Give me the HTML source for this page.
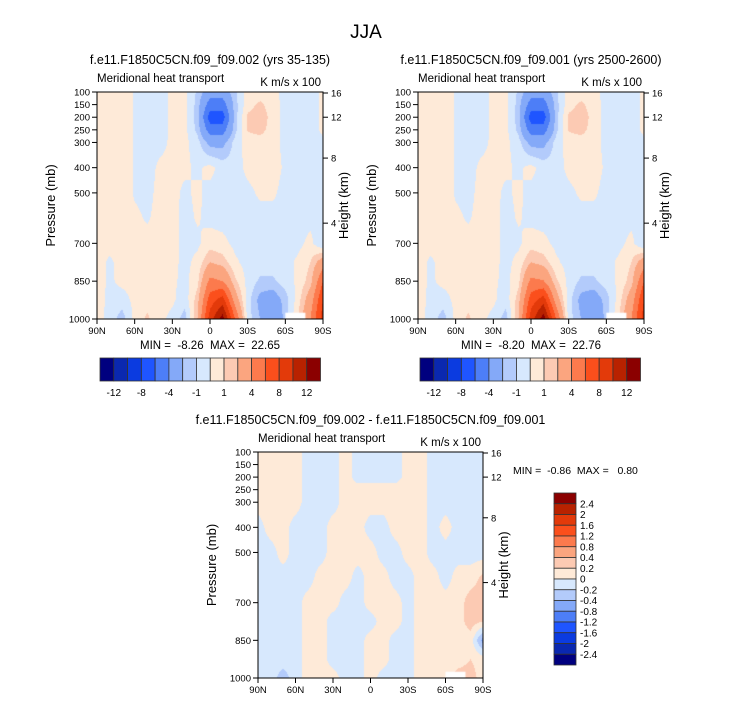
<!DOCTYPE html>
<html><head><meta charset="utf-8"><style>
html,body{margin:0;padding:0;background:#fff;}
#wrap{position:relative;width:733px;height:703px;overflow:hidden;font-family:"Liberation Sans",sans-serif;}
canvas{position:absolute;}
svg{position:absolute;left:0;top:0;}
</style></head><body>
<div id="wrap">
<canvas id="c1"></canvas>
<canvas id="c2"></canvas>
<canvas id="c3"></canvas>
<svg id="ov" width="733" height="703"></svg>
</div>
<script>
const pressures=[100,150,200,250,300,400,500,600,700,775,850,925,1000];
const lats=[90,80,70,60,50,40,30,20,10,0,-10,-20,-30,-40,-50,-60,-70,-80,-90];
const field1=[
[0.5,0.5,0.5,-0.1,-0.4,-0.4,0.2,0.3,-1.2,-3,-3,-1.2,0.4,0.5,0.4,-0.4,-0.4,-0.4,0.2],
[0.5,0.5,0.5,-0.1,-0.4,-0.4,0.2,0.3,-1.4,-5,-5,-1.4,0.6,1.2,0.5,-0.4,-0.4,-0.4,0.2],
[0.5,0.4,0.5,-0.1,-0.4,-0.4,0.2,0.3,-1.5,-7,-7,-1.5,1.2,1.6,0.6,-0.4,-0.4,-0.4,0.2],
[0.5,0.4,0.5,-0.1,-0.4,-0.4,0.2,0.3,-1.3,-5,-5,-1.3,1.1,1.3,0.6,-0.4,-0.4,-0.4,0.2],
[0.5,0.4,0.5,-0.1,-0.4,-0.3,0.2,0.3,-0.6,-2.5,-2.5,-0.6,0.5,0.6,0.5,-0.4,-0.4,-0.4,-0.2],
[0.5,0.4,0.5,-0.1,-0.4,0.2,0.2,0.2,-0.2,0.3,-0.4,-0.5,0.3,0.5,0.5,-0.2,-0.4,-0.4,-0.3],
[0.5,0.4,0.5,-0.1,-0.3,0.3,0.3,-0.2,0.2,-0.3,-0.4,-0.5,-0.3,0.2,0.2,-0.4,-0.4,-0.4,-0.3],
[0.5,0.4,0.5,0.2,-0.1,0.3,0.3,-0.3,0.1,-0.3,-0.4,-0.5,-0.5,-0.4,-0.4,-0.4,-0.4,-0.3,-0.5],
[0.5,0.4,0.4,0.4,0.3,0.3,0.3,-0.3,-0.2,0.5,0.3,-0.3,-0.5,-0.5,-0.4,-0.4,-0.3,0.3,-1],
[0.5,-0.2,0.4,0.4,0.3,0.3,0.3,-0.3,0.3,2,1.5,0.2,-0.4,-0.5,-0.5,-0.4,0.2,1,3],
[0.5,-0.2,0.3,0.4,0.3,0.3,0.2,-0.3,0.7,4.5,4,1.2,-0.3,-1.2,-1.2,-0.5,0.2,1.5,6],
[0.5,-0.3,-0.5,0.3,0.6,0.3,0.2,-0.6,1.5,7,9,3,-0.5,-2.5,-3,-1.5,0.5,3,8],
[0.5,-0.4,-1.5,0.3,1.2,0.3,-0.3,-1.5,2,9,13,6,-0.5,-2,-4,-1.5,1,4,9]];
const field2=[
[0.5,0.5,0.5,-0.1,-0.4,-0.4,0.2,0.3,-1.2,-3,-3,-1.2,0.4,0.5,0.4,-0.4,-0.4,-0.4,0.2],
[0.5,0.5,0.5,-0.1,-0.4,-0.4,0.2,0.3,-1.4,-5,-5,-1.4,0.6,1.2,0.5,-0.4,-0.4,-0.4,0.2],
[0.5,0.4,0.5,-0.1,-0.4,-0.4,0.2,0.3,-1.5,-7,-7,-1.5,1.2,1.6,0.6,-0.4,-0.4,-0.4,0.2],
[0.5,0.4,0.5,-0.1,-0.4,-0.4,0.2,0.3,-1.3,-5,-5,-1.3,1.1,1.3,0.6,-0.4,-0.4,-0.4,0.2],
[0.5,0.4,0.5,-0.1,-0.4,-0.3,0.2,0.3,-0.6,-2.5,-2.5,-0.6,0.5,0.6,0.5,-0.4,-0.4,-0.4,-0.2],
[0.5,0.4,0.5,-0.1,-0.4,0.2,0.2,0.2,-0.2,0.3,-0.4,-0.5,0.3,0.5,0.5,-0.2,-0.4,-0.4,-0.3],
[0.5,0.4,0.5,-0.1,-0.3,0.3,0.3,-0.2,0.2,-0.3,-0.4,-0.5,-0.3,0.2,0.2,-0.4,-0.4,-0.4,-0.3],
[0.5,0.4,0.5,0.2,-0.1,0.3,0.3,-0.3,0.1,-0.3,-0.4,-0.5,-0.5,-0.4,-0.4,-0.4,-0.4,-0.3,-0.5],
[0.5,0.4,0.4,0.4,0.3,0.3,0.3,-0.3,-0.2,0.5,0.3,-0.3,-0.5,-0.5,-0.4,-0.4,-0.3,0.3,-1],
[0.5,-0.2,0.4,0.4,0.3,0.3,0.3,-0.3,0.3,2,1.5,0.2,-0.4,-0.5,-0.5,-0.4,0.2,1,3],
[0.5,-0.2,0.3,0.4,0.3,0.3,0.2,-0.3,0.7,4.5,4.1,1.2,-0.3,-1.2,-1.2,-0.5,0.2,1.5,6],
[0.5,-0.3,-0.5,0.3,0.6,0.3,0.2,-0.6,1.5,7,9.1,3,-0.5,-2.5,-3,-1.5,0.5,3,8],
[0.5,-0.4,-1.5,0.3,1.2,0.3,-0.3,-1.5,2,9,13.1,6,-0.5,-2,-4,-1.5,1,4,9]];
const field3=[
[0.1,0.1,0.1,0.1,-0.1,-0.1,-0.1,0.1,-0.1,-0.1,-0.1,-0.1,0.1,0.1,-0.1,-0.1,-0.1,-0.1,-0.1],
[0.1,0.1,0.1,0.1,-0.1,-0.1,-0.1,0.1,-0.1,-0.1,-0.1,-0.1,0.1,0.1,-0.1,-0.1,-0.1,-0.1,-0.1],
[0.1,0.1,0.1,0.1,-0.1,-0.1,-0.1,0.1,-0.1,-0.1,-0.1,-0.1,0.1,0.1,-0.1,-0.1,-0.1,-0.1,-0.1],
[0.1,0.1,0.1,0.1,-0.1,-0.1,-0.1,0.1,0.1,0.1,0.1,0.1,0.1,0.1,-0.1,-0.1,-0.1,-0.1,-0.1],
[0.1,0.1,0.1,0.1,-0.1,-0.1,-0.1,0.1,0.1,0.1,0.1,0.1,0.1,0.1,-0.1,-0.1,-0.1,-0.1,-0.1],
[-0.1,0.1,0.1,-0.1,-0.1,-0.1,0.1,0.1,0.1,-0.1,-0.1,0.1,0.1,0.1,-0.1,0.1,-0.1,-0.1,-0.1],
[-0.1,-0.1,0.1,-0.1,-0.1,-0.1,0.1,0.1,0.1,0.1,-0.1,-0.1,0.1,0.1,-0.1,-0.1,-0.1,-0.1,-0.1],
[-0.1,-0.1,-0.1,-0.1,-0.1,0.1,0.1,0.1,-0.1,0.1,0.1,-0.1,-0.1,0.1,0.1,-0.1,0.1,0.1,0.25],
[-0.1,-0.1,-0.1,-0.1,0.1,0.1,0.1,-0.1,-0.1,0.1,0.1,0.1,-0.1,0.1,0.1,0.1,0.1,0.3,0.3],
[-0.1,-0.1,-0.1,-0.1,0.1,0.1,-0.1,-0.1,-0.1,-0.1,0.1,0.1,-0.1,0.1,0.1,0.1,0.1,0.3,0.2],
[-0.1,-0.1,-0.1,-0.1,0.1,0.1,-0.1,-0.1,-0.1,0.1,0.1,-0.1,-0.1,0.1,0.1,0.1,0.1,0.1,-0.5],
[-0.1,-0.1,-0.1,-0.1,0.1,0.1,-0.1,-0.1,-0.1,0.1,0.1,-0.1,-0.1,0.1,0.1,0.1,0.1,0.2,0.1],
[-0.1,-0.1,-0.3,-0.1,0.1,0.1,0.1,-0.1,-0.1,0.1,-0.1,-0.1,-0.1,0.1,0.1,0.1,0.3,0.3,0.1]];
const levels1=[-12,-10,-8,-6,-4,-2,-1,0,1,2,4,6,8,10,12];
const levels3=[-2.4,-2,-1.6,-1.2,-0.8,-0.4,-0.2,0,0.2,0.4,0.8,1.2,1.6,2,2.4];
const barLabels1=["-12","-8","-4","-1","1","4","8","12"];
const barLabels3=["2.4","2","1.6","1.2","0.8","0.4","0.2","0","-0.2","-0.4","-0.8","-1.2","-1.6","-2","-2.4"];
const pTicks=[100,150,200,250,300,400,500,700,850,1000];
const latTicks=[90,60,30,0,-30,-60,-90];
const hTicks=[16,12,8,4];
const hTickP=[104,200,362,620];
const colors=["#00007f","#0a28b0","#0b3be0","#1f55ff","#4d7ef7","#84a9f8","#b3cbfb","#d7e8fd","#feead8","#fccab3","#fba57f","#fc7a4d","#fb4f1c","#e33a0a","#b82200","#8b0000"];

const NS="http://www.w3.org/2000/svg";
const ov=document.getElementById('ov');
function el(tag,attrs,text){const e=document.createElementNS(NS,tag);for(const k in attrs)e.setAttribute(k,attrs[k]);if(text!==undefined)e.textContent=text;ov.appendChild(e);return e;}
function txt(x,y,s,size,anchor,name,extra){const t=el('text',Object.assign({x:x,y:y,'font-size':size,'text-anchor':anchor||'start','font-family':'Liberation Sans, sans-serif',fill:'#000',style:'white-space:pre'},extra||{}),s);return t;}
function colorIdx(v,lev){let i=0;while(i<lev.length&&v>=lev[i])i++;return i;}
function sample(field,lat,p){
  let fi=(90-lat)/10; if(fi<0)fi=0; if(fi>18)fi=18;
  const i0=Math.min(17,Math.floor(fi)),tx=fi-i0;
  let j0=0; while(j0<pressures.length-2&&p>pressures[j0+1])j0++;
  let ty=(p-pressures[j0])/(pressures[j0+1]-pressures[j0]); ty=Math.max(0,Math.min(1,ty));
  const a=field[j0][i0],b=field[j0][i0+1],c=field[j0+1][i0],d=field[j0+1][i0+1];
  return (a*(1-tx)+b*tx)*(1-ty)+(c*(1-tx)+d*tx)*ty;
}
function plot(cid,field,lev,X,Y,W,H,title,tname){
  const xs=lat=>X+(90-lat)/180*W, ys=p=>Y+(p-100)/900*H;
  const cv=document.getElementById(cid);cv.width=W;cv.height=H;cv.style.left=X+'px';cv.style.top=Y+'px';
  const ctx=cv.getContext('2d');
  for(let px=0;px<W;px++){for(let py=0;py<H;py++){
    const lat=90-(px+0.5)/W*180,p=100+(py+0.5)/H*900;
    ctx.fillStyle=colors[colorIdx(sample(field,lat,p),lev)];ctx.fillRect(px,py,1,1);}}
  ctx.fillStyle='#fff';ctx.fillRect(xs(-60)-X,ys(975)-Y,xs(-76)-xs(-60),H-(ys(975)-Y));
  const g=el('rect',{x:X,y:Y,width:W,height:H,fill:'none',stroke:'#000','stroke-width':1});
  
  pTicks.forEach(p=>{el('line',{x1:X-5,x2:X,y1:ys(p),y2:ys(p),stroke:'#000'});txt(X-7,ys(p)+3.5,String(p),9.5,'end','pressure-tick-label');});
  latTicks.forEach(l=>{el('line',{x1:xs(l),x2:xs(l),y1:Y+H,y2:Y+H+5,stroke:'#000'});
    txt(xs(l),Y+H+15,l===0?'0':(Math.abs(l)+(l>0?'N':'S')),9.5,'middle','latitude-tick-label');});
  hTicks.forEach((h,i)=>{const y=ys(hTickP[i]);el('line',{x1:X+W,x2:X+W+5,y1:y,y2:y,stroke:'#000'});txt(X+W+8,y+3.5,String(h),9.5,'start','height-tick-label');});
  txt(X+W/2,Y-28,title,12.5,'middle',tname);
  txt(X,Y-10,'Meridional heat transport',11.5,'start','subtitle-left');
  txt(X+W-2,Y-6,'K m/s x 100',11.5,'end','units-label');
  const yl=Y+H/2;
  txt(0,0,'Pressure (mb)',13,'middle','y-axis-title',{transform:`translate(${X-42},${yl}) rotate(-90)`});
  txt(0,0,'Height (km)',13,'middle','y-axis-right-title',{transform:`translate(${X+W+25},${yl}) rotate(-90)`});
}
txt(366,38,'JJA',19,'middle','figure-title');
plot('c1',field1,levels1,97,92,226,227,'f.e11.F1850C5CN.f09_f09.002 (yrs 35-135)','panel1-title');
plot('c2',field2,levels1,418,92,226,227,'f.e11.F1850C5CN.f09_f09.001 (yrs 2500-2600)','panel2-title');
plot('c3',field3,levels3,258,452,225,226,'f.e11.F1850C5CN.f09_f09.002 - f.e11.F1850C5CN.f09_f09.001','panel3-title');
txt(210,349,'MIN =  -8.26  MAX =  22.65',11.5,'middle','panel1-minmax');
txt(531,349,'MIN =  -8.20  MAX =  22.76',11.5,'middle','panel2-minmax');
txt(513,474,'MIN =  -0.86  MAX =   0.80',10.5,'start','panel3-minmax');
function hbar(X0,name){
  const Y0=358,bw=220.5/16,bh=23;
  colors.forEach((c,i)=>{const r=el('rect',{x:X0+i*bw,y:Y0,width:bw,height:bh,fill:c,stroke:'#333','stroke-width':0.8});
    });
  barLabels1.forEach((s,k)=>txt(X0+(2*k+1)*bw,Y0+bh+15,s,10,'middle',name+'-label'));
}
hbar(100,'colorbar1');hbar(420,'colorbar2');
(function(){const X0=554,Y0=493,bw=22,bh=172/16;
  colors.slice().reverse().forEach((c,i)=>{const r=el('rect',{x:X0,y:Y0+i*bh,width:bw,height:bh,fill:c,stroke:'#333','stroke-width':0.8});
    });
  barLabels3.forEach((s,k)=>txt(X0+bw+4,Y0+(k+1)*bh+3.5,s,10,'start','colorbar3-label'));
})();
</script>
</body></html>
